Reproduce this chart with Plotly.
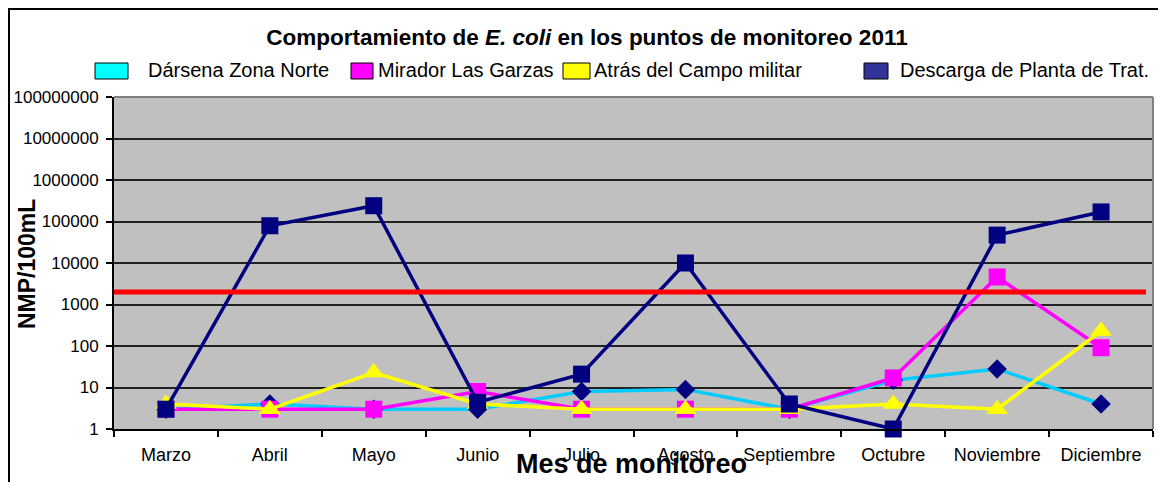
import plotly.graph_objects as go

# data (NMP/100mL, log scale)
meses = ["Marzo", "Abril", "Mayo", "Junio", "Julio", "Agosto",
         "Septiembre", "Octubre", "Noviembre", "Diciembre"]
darsena = [3, 4, 3, 3, 8, 9, 3, 15, 28, 4]
mirador = [3, 3, 3, 8, 3, 3, 3, 17, 4600, 91]
atras = [4, 3, 23, 4, 3, 3, 3, 4, 3, 230]
descarga = [3, 79000, 240000, 4.4, 21, 10000, 4, 1, 47000, 170000]
limite = 2000
y_ticks = [1, 10, 100, 1000, 10000, 100000, 1000000, 10000000, 100000000]

nombres = ["Dársena Zona Norte", "Mirador Las Garzas",
           "Atrás del Campo militar", "Descarga de Planta de Trat."]
colores_leyenda = ["#00FFFF", "#FF00FF", "#FFFF00", "#333399"]

# the page body has an 8px margin, so the figure starts at (8, 8)
OFF = 8
W, H = 1166 - OFF, 482 - OFF
L, R, T, B = 114 - OFF, 13, 97 - OFF, 53
PW, PH = W - L - R, H - T - B
FONT = "Arial, Liberation Sans, sans-serif"


def px_x(p):
    # page pixel -> paper x
    return (p - OFF - L) / PW


def px_y(p):
    # page pixel -> paper y
    return (H - B - (p - OFF)) / PH


fig = go.Figure()

series = [
    (darsena, "#00CCFF", "diamond", "#000080", 15),
    (mirador, "#FF00FF", "square", "#FF00FF", 17),
    (atras, "#FFFF00", "triangle-up", "#FFFF00", 19),
    (descarga, "#000080", "square", "#000080", 17),
]
for (vals, lc, sym, mc, ms), nm in zip(series, nombres):
    fig.add_trace(go.Scatter(
        x=meses, y=vals, name=nm, mode="lines+markers",
        line=dict(color=lc, width=3.5),
        marker=dict(symbol=sym, color=mc, size=ms, line=dict(width=0)),
        cliponaxis=False, showlegend=False,
    ))

shapes = [
    # limit line
    dict(type="line", xref="paper", yref="y", x0=0, x1=px_x(1146),
         y0=limite, y1=limite, line=dict(color="#FF0000", width=5), layer="above"),
    # plot area top / right border
    dict(type="line", xref="paper", yref="paper", x0=0, x1=1, y0=1, y1=1,
         line=dict(color="#808080", width=2)),
    dict(type="line", xref="paper", yref="paper", x0=1, x1=1, y0=0, y1=1,
         line=dict(color="#808080", width=2)),
    # outer chart frame
    dict(type="rect", xref="paper", yref="paper", x0=px_x(9), x1=px_x(1163),
         y0=px_y(495), y1=px_y(9), line=dict(color="black", width=2)),
]

# hand-made legend (boxes + labels)
cajas = [(95, 128), (351, 373), (563, 590), (864, 888)]
texto_x = [146, 376, 592, 898]
annotations = []
for (x0, x1), tx, nm, c in zip(cajas, texto_x, nombres, colores_leyenda):
    shapes.append(dict(type="rect", xref="paper", yref="paper",
                       x0=px_x(x0), x1=px_x(x1), y0=px_y(79), y1=px_y(63),
                       fillcolor=c, line=dict(color="black", width=1)))
    annotations.append(dict(x=px_x(tx), y=px_y(70), xref="paper", yref="paper",
                            text=nm, showarrow=False, xanchor="left", yanchor="middle",
                            font=dict(family=FONT, size=20, color="black")))

annotations.append(dict(x=px_x(631), y=px_y(464), xref="paper", yref="paper",
                        text="<b>Mes de monitoreo</b>", showarrow=False,
                        xanchor="center", yanchor="middle",
                        font=dict(family=FONT, size=27, color="black")))
annotations.append(dict(x=px_x(27), y=px_y(264), xref="paper", yref="paper",
                        text="<b>NMP/100mL</b>", showarrow=False, textangle=-90,
                        xanchor="center", yanchor="middle",
                        font=dict(family=FONT, size=23, color="black")))

fig.update_layout(
    width=W, height=H,
    margin=dict(l=L, r=R, t=T, b=B),
    paper_bgcolor="white",
    plot_bgcolor="#C0C0C0",
    title=dict(text="<b>Comportamiento de <i>E. coli</i> en los puntos de monitoreo 2011</b>",
               x=(587 - OFF) / W, y=1 - (37 - OFF) / H, xref="container", yref="container",
               xanchor="center", yanchor="middle",
               font=dict(family=FONT, size=22.5, color="black")),
    xaxis=dict(type="category", categoryorder="array", categoryarray=meses,
               range=[-0.5, len(meses) - 0.5], showgrid=False, automargin=False,
               showline=True, linecolor="black", linewidth=2,
               ticks="outside", tickson="boundaries", ticklen=6,
               tickcolor="black", tickwidth=2, ticklabelstandoff=8,
               tickfont=dict(family=FONT, size=18, color="black")),
    yaxis=dict(type="log", range=[0, 8], tickvals=y_ticks, tickformat="d",
               showgrid=True, gridcolor="#222222", gridwidth=1.5, automargin=False,
               zeroline=False, showline=True, linecolor="black", linewidth=2,
               ticks="outside", ticklen=6, tickcolor="black", tickwidth=2,
               ticklabelstandoff=4,
               tickfont=dict(family=FONT, size=17, color="black")),
    shapes=shapes,
    annotations=annotations,
    showlegend=False,
)

fig.write_html("out.html")
